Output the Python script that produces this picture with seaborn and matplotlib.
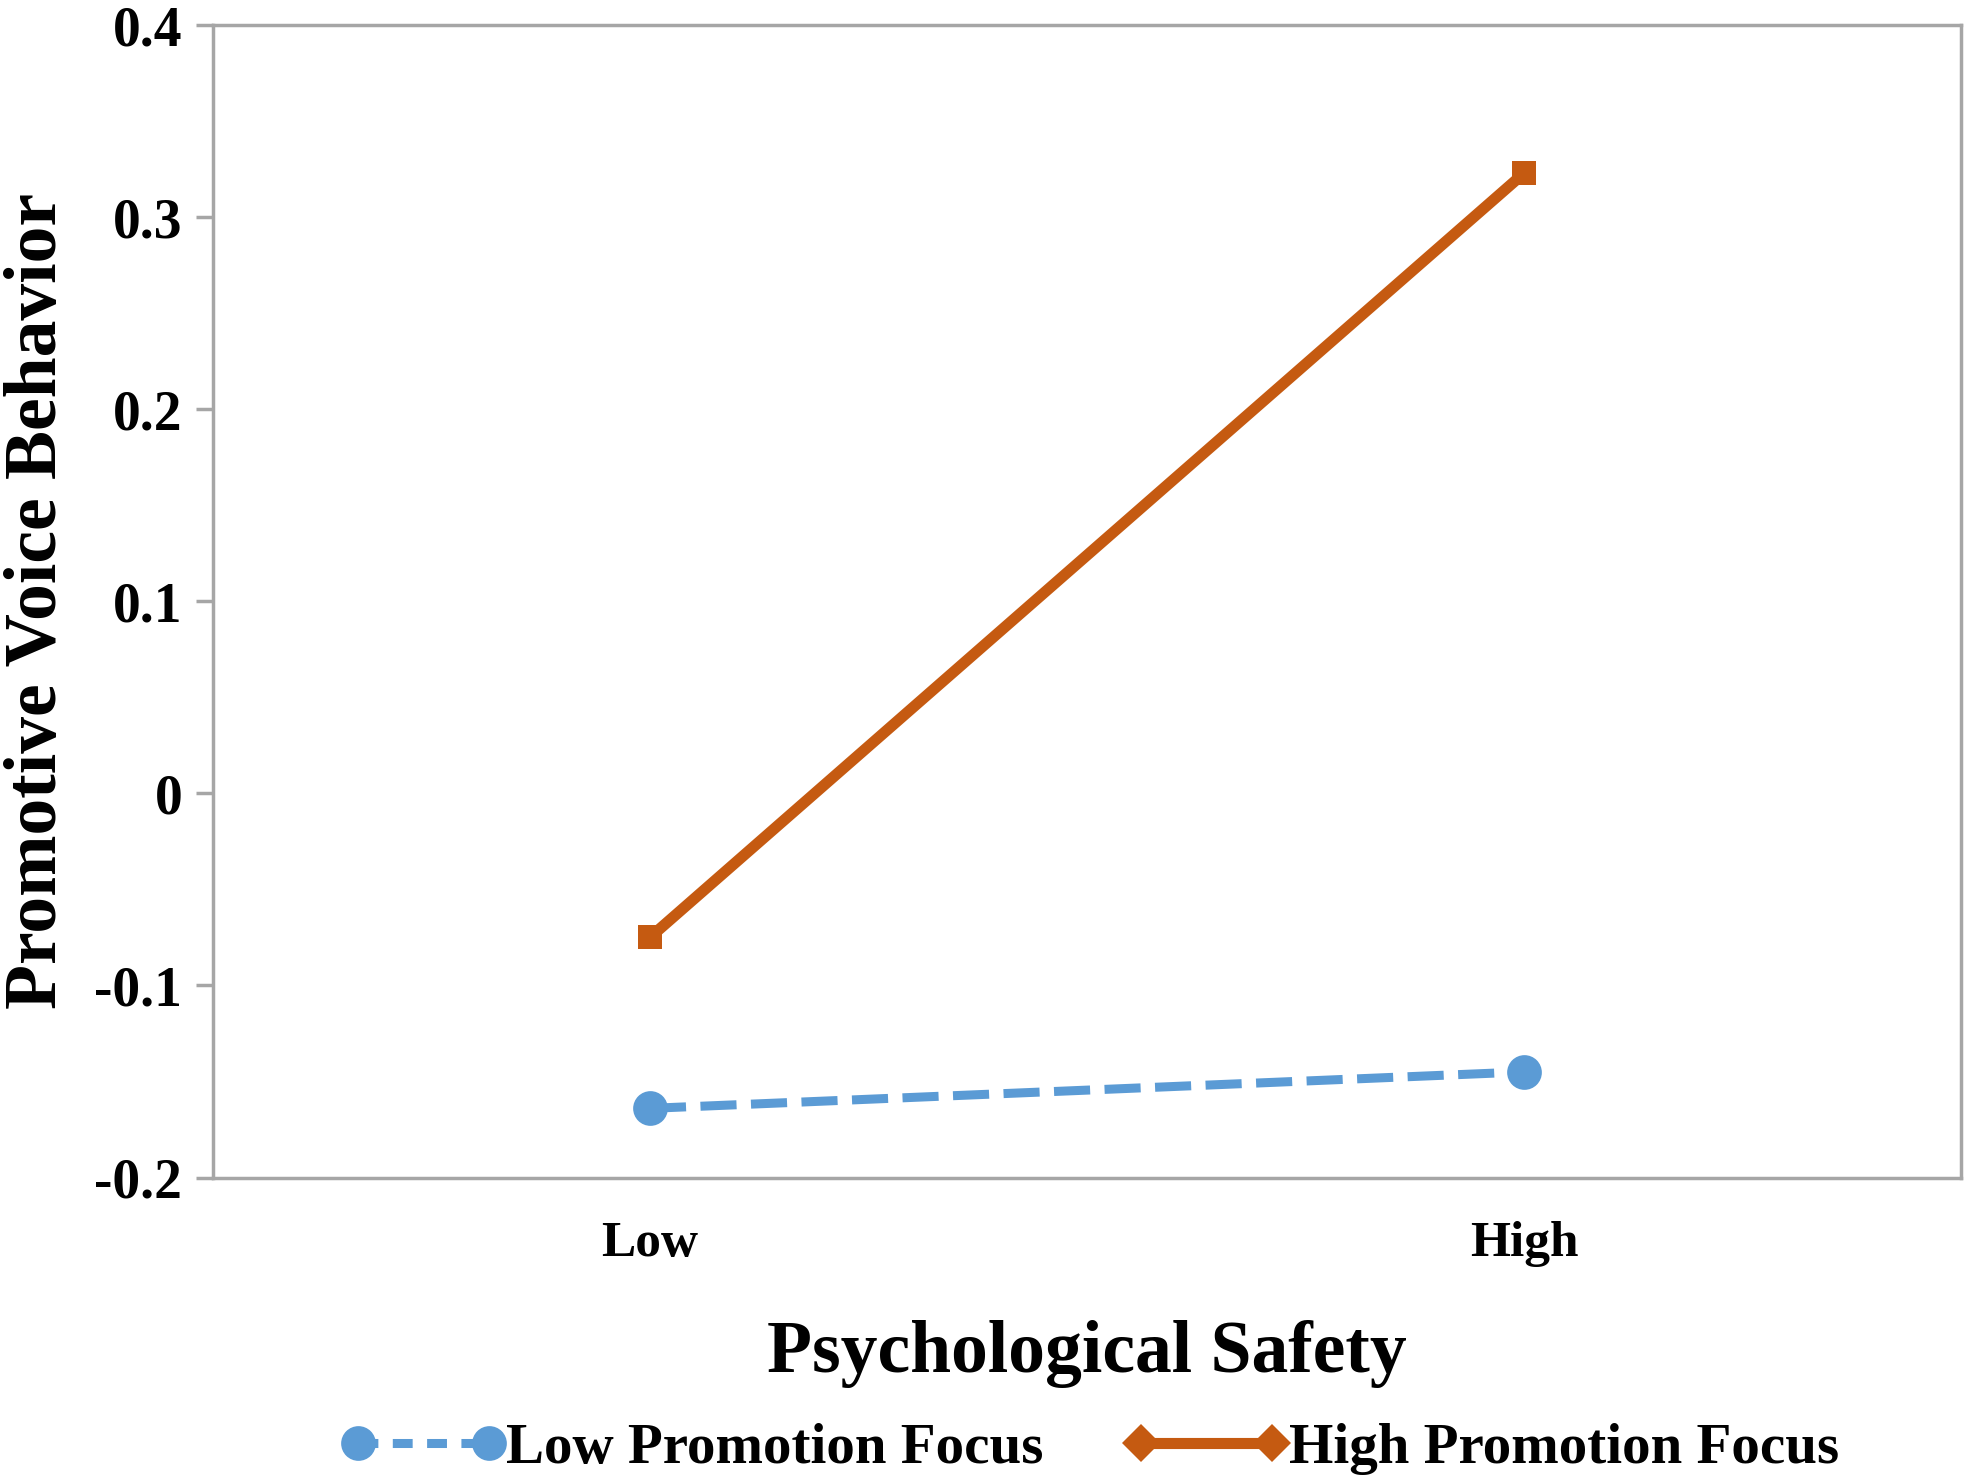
import pandas as pd
import matplotlib.pyplot as plt
import seaborn as sns
from matplotlib.lines import Line2D

# Values
safety_levels = ['Low', 'High']
low_focus = [-0.164, -0.145]
high_focus = [-0.075, 0.323]
series_names = ['Low Promotion Focus', 'High Promotion Focus']
y_ticks = [-0.2, -0.1, 0.0, 0.1, 0.2, 0.3, 0.4]
y_tick_labels = ['-0.2', '-0.1', '0', '0.1', '0.2', '0.3', '0.4']

blue = '#5B9BD5'
orange = '#C55A11'
grey = '#A6A6A6'

df = pd.DataFrame({
    'safety': safety_levels * 2,
    'voice': low_focus + high_focus,
    'focus': [series_names[0]] * 2 + [series_names[1]] * 2,
})

sns.set_style('white')
plt.rcParams['font.family'] = ['Liberation Serif', 'DejaVu Serif']
plt.rcParams['font.weight'] = 'bold'
plt.rcParams['text.color'] = 'black'
plt.rcParams['axes.labelcolor'] = 'black'
plt.rcParams['xtick.labelcolor'] = 'black'
plt.rcParams['ytick.labelcolor'] = 'black'

fig = plt.figure(figsize=(19.71, 14.83), dpi=100)
ax = fig.add_axes([0.108, 0.206, 0.887, 0.777])

sns.lineplot(data=df[df['focus'] == series_names[0]], x='safety', y='voice',
             color=blue, linewidth=6.5, marker='o', markersize=25,
             markeredgewidth=0, ax=ax, legend=False,
             linestyle=(0, (4.0, 1.6)))
sns.lineplot(data=df[df['focus'] == series_names[1]], x='safety', y='voice',
             color=orange, linewidth=8, marker='s', markersize=17,
             markeredgewidth=0, ax=ax, legend=False)

ax.set_xlim(-0.5, 1.5)
ax.set_ylim(-0.2, 0.4)
ax.set_yticks(y_ticks)
ax.set_yticklabels(y_tick_labels)
ax.tick_params(axis='y', which='both', left=True, length=12, width=2.5,
               color=grey, labelsize=40, pad=10)
ax.tick_params(axis='x', bottom=False, labelsize=37, pad=28)
for lab in ax.get_xticklabels() + ax.get_yticklabels():
    lab.set_fontweight('bold')

for sp in ax.spines.values():
    sp.set_color(grey)
    sp.set_linewidth(2.5)

ax.set_xlabel('Psychological Safety', fontsize=53, fontweight='bold', labelpad=38)
ax.set_ylabel('Promotive Voice Behavior', fontsize=53, fontweight='bold', labelpad=16)

handles = [
    Line2D([0], [0], color=blue, linewidth=6.5, linestyle=(0, (2.2, 1.6)),
           marker='o', markersize=25, markeredgewidth=0),
    Line2D([0], [0], color=orange, linewidth=8, marker='D', markersize=19,
           markeredgewidth=0),
]
fig.legend(handles, series_names, loc='center', bbox_to_anchor=(0.553, 0.023),
           ncol=2, frameon=False, numpoints=2, handlelength=2.9,
           handletextpad=0.0, columnspacing=1.4,
           prop={'family': 'Liberation Serif', 'weight': 'bold', 'size': 41})

fig.savefig('out.png', dpi=100, facecolor='white')
